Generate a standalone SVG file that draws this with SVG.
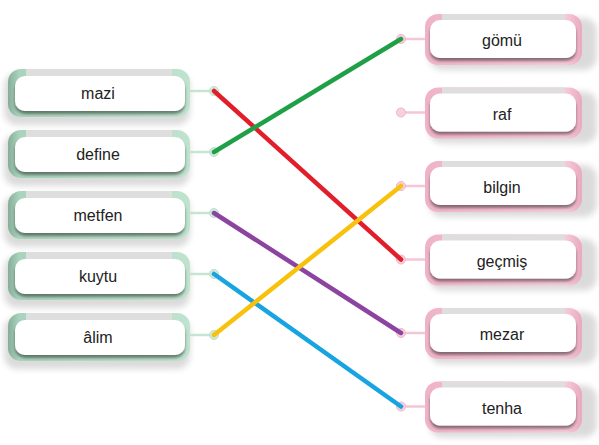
<svg xmlns="http://www.w3.org/2000/svg" width="599" height="445" viewBox="0 0 599 445">
<defs>
<style>
.lbl{font-family:"Liberation Sans",Arial,sans-serif;font-size:16px;fill:#222;text-anchor:middle}
.white{fill:#fff}
.band{fill:#dedede}
.gstub{stroke:#c6e4d4;stroke-width:2.5}
.pstub{stroke:#f4c6d6;stroke-width:2.5}
.gdot{fill:#d2eadc;stroke:#bddfcc;stroke-width:1}
.pdot{fill:#f7cfdd;stroke:#efb7cb;stroke-width:1}
.outer{fill:#000;opacity:.14}
.link{fill:none;stroke-width:4.5;stroke-linecap:round}
</style>
<linearGradient id="gframe" x1="0" x2="1" y1="0" y2="0">
<stop offset="0" stop-color="#86ad98"/>
<stop offset="0.06" stop-color="#a9d3bc"/>
<stop offset="1" stop-color="#bfe3cf"/>
</linearGradient>
<linearGradient id="pframe" x1="0" x2="1" y1="0" y2="0">
<stop offset="0" stop-color="#efb3c8"/>
<stop offset="0.9" stop-color="#f6c9d8"/>
<stop offset="1" stop-color="#e9a9c0"/>
</linearGradient>
<filter id="sh" x="-10%" y="-30%" width="120%" height="170%">
<feDropShadow dx="0" dy="3" stdDeviation="1.6" flood-color="#000" flood-opacity="0.45"/>
</filter>
<filter id="blur" x="-10%" y="-30%" width="120%" height="170%">
<feGaussianBlur stdDeviation="3"/>
</filter>
<g id="lbox">
<rect class="outer" x="4" y="-26" width="186" height="52" rx="13" filter="url(#blur)"/>
<rect x="8" y="-30" width="182" height="48" rx="13" fill="url(#gframe)"/>
<rect class="band" x="26" y="-30" width="146" height="7"/>
<rect class="white" x="15" y="-23" width="170" height="35" rx="10" filter="url(#sh)"/>
<line class="gstub" x1="190" y1="-8" x2="212" y2="-8"/>
<circle class="gdot" cx="214" cy="-8" r="4.5"/>
</g>
<g id="rbox">
<rect class="outer" x="429" y="-28" width="168" height="52" rx="13" filter="url(#blur)"/>
<rect x="425" y="-32" width="157" height="51" rx="13" fill="url(#pframe)"/>
<rect class="band" x="442" y="-32" width="123" height="7"/>
<rect class="white" x="430" y="-26" width="146" height="38" rx="10" filter="url(#sh)"/>
<line class="pstub" x1="403" y1="-7" x2="425" y2="-7"/>
<circle class="pdot" cx="401" cy="-7" r="4.5"/>
</g>
</defs>
<g id="left-mazi" transform="translate(0,99)"><use href="#lbox"/><text class="lbl" x="98" y="0">mazi</text></g>
<g id="left-define" transform="translate(0,160)"><use href="#lbox"/><text class="lbl" x="98" y="0">define</text></g>
<g id="left-metfen" transform="translate(0,221)"><use href="#lbox"/><text class="lbl" x="98" y="0">metfen</text></g>
<g id="left-kuytu" transform="translate(0,282)"><use href="#lbox"/><text class="lbl" x="98" y="0">kuytu</text></g>
<g id="left-alim" transform="translate(0,343)"><use href="#lbox"/><text class="lbl" x="98" y="0">âlim</text></g>
<g id="right-gomu" transform="translate(0,46)"><use href="#rbox"/><text class="lbl" x="502" y="0">gömü</text></g>
<g id="right-raf" transform="translate(0,119.5)"><use href="#rbox"/><text class="lbl" x="502" y="0">raf</text></g>
<g id="right-bilgin" transform="translate(0,193)"><use href="#rbox"/><text class="lbl" x="502" y="0">bilgin</text></g>
<g id="right-gecmis" transform="translate(0,266.5)"><use href="#rbox"/><text class="lbl" x="502" y="0">geçmiş</text></g>
<g id="right-mezar" transform="translate(0,340)"><use href="#rbox"/><text class="lbl" x="502" y="0">mezar</text></g>
<g id="right-tenha" transform="translate(0,413.5)"><use href="#rbox"/><text class="lbl" x="502" y="0">tenha</text></g>
<g id="connectors">
<line class="link" stroke="#e31e2b" x1="214" y1="91" x2="401" y2="259.5"/>
<line class="link" stroke="#1fa046" x1="214" y1="152" x2="401" y2="39"/>
<line class="link" stroke="#8c44a0" x1="214" y1="213" x2="401" y2="333"/>
<line class="link" stroke="#18a4e0" x1="214" y1="274" x2="401" y2="406.5"/>
<line class="link" stroke="#f8c10c" x1="214" y1="335" x2="401" y2="186"/>
</g>
</svg>
